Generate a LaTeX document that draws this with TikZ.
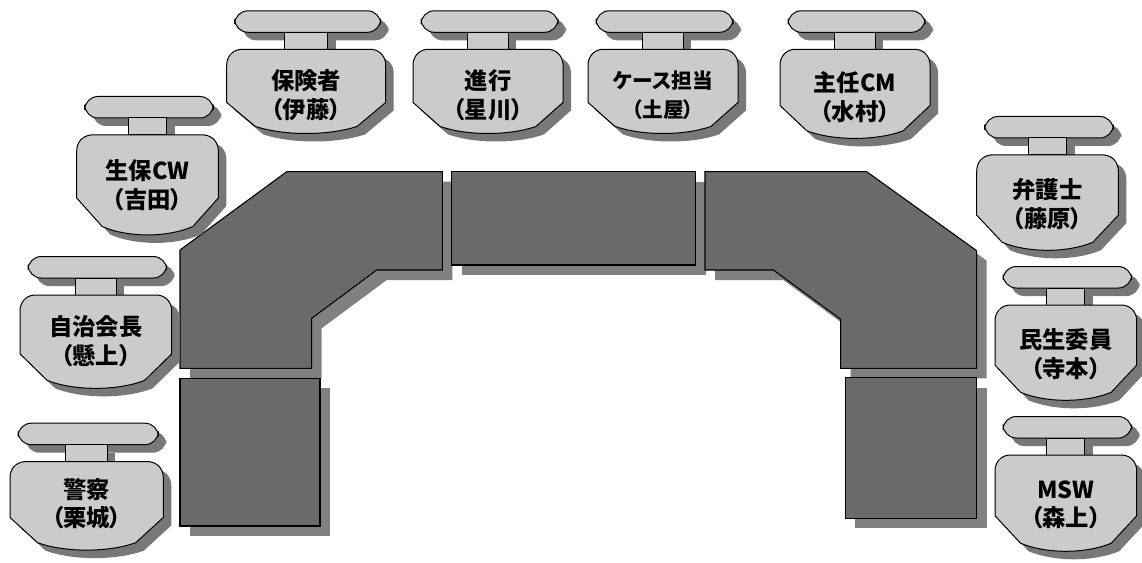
\documentclass[tikz,border=0pt]{standalone}
\usepackage{fontspec}
\newfontfamily\jp[RawFeature=+palt]{Noto Sans CJK JP}
\definecolor{tablegray}{HTML}{6A6A6A}
\definecolor{tshadow}{HTML}{808080}
\definecolor{chairgray}{HTML}{CBCBCB}
\definecolor{cshadow}{HTML}{787878}
\tikzset{
  tbl/.style={fill=tablegray, draw=black, line width=0.8pt, line join=miter},
  tblshadow/.style={fill=tshadow},
  chairpart/.style={fill=chairgray, draw=black, line width=0.75pt},
  chairshadow/.style={fill=cshadow},
  lbl/.style={align=center, inner sep=0pt, font=\jp\bfseries\fontsize{17.5}{21.5}\selectfont},
  lblsmall/.style={lbl, font=\jp\bfseries\fontsize{15.5}{21.5}\selectfont}
}
% seat outline: #1 x1, #2 x2, #3 y1 (top), #4 y2 (bottom)
\newcommand\seatpath[4]{%
 ({#1+14},{#3}) -- ({#2-14},{#3}) .. controls ({#2-5},{#3+1}) and ({#2},{#3+8}) .. ({#2},{#3+16})
 -- ({#2},{#3+0.62*(#4-#3)}) -- ({#2-0.18*(#2-#1)},{#4-0.1*(#4-#3)})
 .. controls ({#2-0.36*(#2-#1)},{#4+0.01*(#4-#3)}) and ({#1+0.36*(#2-#1)},{#4+0.01*(#4-#3)}) .. ({#1+0.18*(#2-#1)},{#4-0.1*(#4-#3)})
 -- ({#1},{#3+0.62*(#4-#3)}) -- ({#1},{#3+16}) .. controls ({#1},{#3+8}) and ({#1+5},{#3+1}) .. cycle}
% chair: #1 name, #2 x1, #3 x2, #4 y1, #5 y2, #6 label style, #7 text offset, #8 text
\newcommand\chair[8]{%
 \begin{scope}[shift={(8,8)}]
  \fill[chairshadow, rounded corners=10] ({#2+8},{#4-38.5}) rectangle ({#3-5},{#4-17});
  \fill[chairshadow] ({(#2+#3)/2-0.135*(#3-#2)},{#4-17}) rectangle ({(#2+#3)/2+0.135*(#3-#2)},{#4});
  \fill[chairshadow] \seatpath{#2}{#3}{#4}{#5};
 \end{scope}
 \draw[chairpart, rounded corners=10] ({#2+8},{#4-38.5}) rectangle ({#3-5},{#4-17});
 \draw[chairpart] ({(#2+#3)/2-0.135*(#3-#2)},{#4-17}) rectangle ({(#2+#3)/2+0.135*(#3-#2)},{#4});
 \draw[chairpart] \seatpath{#2}{#3}{#4}{#5};
 \node[#6] (#1) at ({(#2+#3)/2},{#4+#7}) {#8};
}
\begin{document}
\begin{tikzpicture}[x=0.75pt,y=-0.75pt]
\useasboundingbox (0,0) rectangle (1142,563);
% table shadows
\begin{scope}[shift={(10,10)}]
 \fill[tblshadow] (286.7,171.7) -- (442.3,171.7) -- (442.3,270) -- (376.7,270) -- (311.7,318.3) -- (311.7,368.3) -- (180,368.3) -- (180,250) -- cycle;
 \fill[tblshadow] (180,378.3) rectangle (320,526);
 \fill[tblshadow] (451.7,171.7) rectangle (695.7,265);
 \fill[tblshadow] (705,171.7) -- (866.7,171.7) -- (976.7,250.7) -- (976.7,368.3) -- (840.7,368.3) -- (840.7,319.3) -- (773.3,270) -- (705,270) -- cycle;
 \fill[tblshadow] (845.3,377.7) rectangle (976.7,518.3);
\end{scope}
% tables
\draw[tbl] (286.7,171.7) -- (442.3,171.7) -- (442.3,270) -- (376.7,270) -- (311.7,318.3) -- (311.7,368.3) -- (180,368.3) -- (180,250) -- cycle;
\draw[tbl] (180,378.3) rectangle (320,526);
\draw[tbl] (451.7,171.7) rectangle (695.7,265);
\draw[tbl] (705,171.7) -- (866.7,171.7) -- (976.7,250.7) -- (976.7,368.3) -- (840.7,368.3) -- (840.7,319.3) -- (773.3,270) -- (705,270) -- cycle;
\draw[tbl] (845.3,377.7) rectangle (976.7,518.3);
% chairs
\chair{hoken}{226.7}{385.7}{49.3}{135}{lbl}{46}{保険者\\（伊藤）}
\chair{shinko}{413}{563}{49.3}{135}{lbl}{46}{進行\\（星川）}
\chair{case}{588}{738}{49.3}{135}{lblsmall}{46}{ケース担当\\（土屋）}
\chair{shunin}{780}{930}{49.3}{140}{lbl}{48}{主任CM\\（水村）}
\chair{seiho}{76.7}{218.3}{135}{236.7}{lbl}{50}{生保CW\\（吉田）}
\chair{jichi}{20}{171.7}{295}{390}{lbl}{46}{自治会長\\（懸上）}
\chair{keisatsu}{10}{163.3}{461.7}{551.7}{lbl}{42}{警察\\（栗城）}
\chair{bengo}{976.7}{1118.3}{155}{252}{lbl}{49}{弁護士\\（藤原）}
\chair{minsei}{995}{1136.7}{305}{402}{lbl}{49}{民生委員\\（寺本）}
\chair{msw}{995}{1136.7}{455}{553}{lbl}{50}{MSW\\（森上）}
\end{tikzpicture}
\end{document}
